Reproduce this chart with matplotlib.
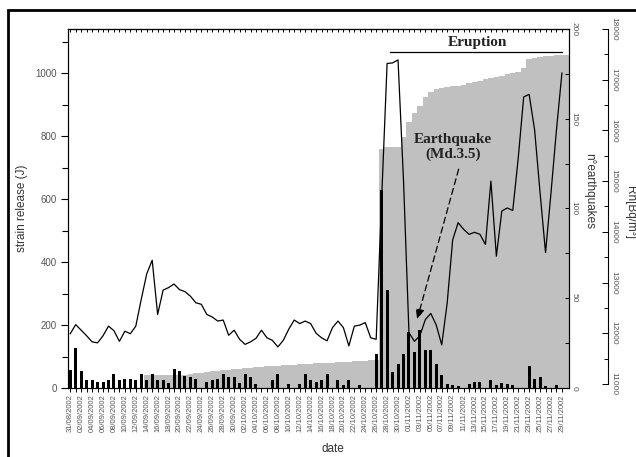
import numpy as np
import pandas as pd
import matplotlib
matplotlib.use("Agg")
import matplotlib.pyplot as plt
from matplotlib.patches import Rectangle
from matplotlib.ticker import MultipleLocator

plt.rcParams['font.family'] = ['Liberation Sans', 'DejaVu Sans']

# dates, one value per day
dates = pd.date_range("2002-08-31", "2002-11-29", freq="D")
date_labels = [d.strftime("%d/%m/%Y") for d in dates[::2]]

# strain release (J) - bars
strain = [58, 126, 53, 26, 25, 18, 18, 25, 46, 25,
          28, 29, 26, 43, 26, 43, 26, 26, 17, 60,
          53, 37, 35, 30, 0, 18, 25, 28, 43, 36,
          36, 17, 43, 34, 12, 0, 0, 24, 43, 0,
          12, 0, 12, 43, 24, 18, 24, 45, 0, 24,
          11, 24, 0, 11, 0, 0, 109, 630, 310, 51,
          75, 109, 177, 115, 184, 120, 120, 75, 41, 12,
          8, 7, 0, 12, 18, 18, 0, 24, 8, 17,
          12, 8, 0, 0, 69, 28, 35, 7, 0, 10, 0]

# Rn [Bq/m3] - line
radon = [11990, 12170, 12060, 11950, 11830, 11810, 11950, 12140, 12050, 11840,
         12040, 11990, 12140, 12670, 13170, 13440, 12370, 12850, 12900, 12970,
         12860, 12820, 12730, 12600, 12570, 12370, 12320, 12240, 12260, 11960,
         12060, 11880, 11780, 11830, 11900, 12060, 11910, 11860, 11730, 11860,
         12080, 12260, 12190, 12240, 12190, 12000, 11910, 11850, 12110, 12240,
         12110, 11750, 12140, 12160, 12210, 11910, 11880, 14650, 17320, 17330,
         17390, 15020, 12010, 11840, 11950, 12270, 12390, 12160, 11770, 12600,
         13840, 14180, 14050, 13950, 13990, 13950, 13750, 15000, 13520, 14410,
         14470, 14420, 15450, 16660, 16710, 16010, 14770, 13590, 14770, 16010, 17130]

# cumulative n° of earthquakes - grey area
cum_eq = [0, 0, 0, 0, 0, 0, 0, 0, 0, 0,
          0, 0, 0, 0, 7.0, 7.0, 7.0, 7.0, 7.0, 7.0,
          7.0, 7.3, 7.8, 8.2, 8.6, 9.0, 9.3, 9.6, 9.9, 10.2,
          10.5, 10.8, 11.0, 11.3, 11.5, 11.8, 12.0, 12.2, 12.4, 12.6,
          12.8, 13.0, 13.2, 13.3, 13.5, 13.7, 13.8, 14.0, 14.2, 14.3,
          14.5, 14.7, 14.9, 15.1, 15.3, 15.5, 15.5, 133, 134, 134,
          134, 140, 148, 153, 157, 162, 165, 166.5, 167, 167.5,
          168, 168, 169, 170, 170.5, 171, 172, 172.5, 173.5, 174,
          175, 175.5, 176, 178, 183, 184, 184.5, 185, 185, 185.5, 185.5]

eruption = (58.5, 90.0)          # day index span
quake_arrow = ((71.1, 695), (63.5, 218))   # tail, head (day, strain units)

days = np.arange(len(dates))
edges = np.append(days - 0.5, days[-1] + 1.5)

fig = plt.figure(figsize=(6.36, 4.57), dpi=100)
ax = fig.add_axes([0.107, 0.151, 0.7877, 0.7856])
ax_n = ax.twinx()
ax_rn = ax.twinx()

ax_n.set_zorder(1)
ax.set_zorder(2)
ax_rn.set_zorder(3)
ax.patch.set_visible(False)
ax_n.patch.set_visible(True)
ax_n.patch.set_facecolor('white')

# grey cumulative area
ax_n.stairs(cum_eq, edges, fill=True, color='#c0c0c0', lw=0)
ax_n.set_ylim(0, 200)

# bars
ax.bar(days, strain, width=0.55, color='black')
ax.set_ylim(0, 1140)
ax.set_xlim(-0.4, 91.3)

# radon line
ax_rn.plot(days, radon, color='black', lw=0.9)
ax_rn.set_ylim(10920, 18000)

tick_c = '#555555'
lab_c = '#333333'
# left axis
ax.yaxis.set_major_locator(MultipleLocator(200))
ax.yaxis.set_minor_locator(MultipleLocator(100))
ax.tick_params(axis='y', which='major', direction='out', length=5, width=0.8,
               labelsize=7, labelcolor=tick_c, pad=3)
ax.tick_params(axis='y', which='minor', direction='out', length=4, width=0.8)
ax.set_ylabel("strain release (J)", fontsize=8.5, color=lab_c)
ax.yaxis.set_label_coords(-0.08, 0.5)

# x axis
ax.set_xticks(days[::2])
ax.set_xticklabels(date_labels, rotation=90, fontsize=5.5, color=tick_c)
ax.set_xticks(days, minor=True)
ax.tick_params(axis='x', which='both', direction='out', length=3, width=0.7, pad=1.5)
ax.set_xlabel("date", fontsize=8.5, color=lab_c)
ax.xaxis.set_label_coords(0.529, -0.152)

top = ax.secondary_xaxis('top')
top.set_xticks(days)
top.tick_params(direction='in', length=2.5, width=0.7, labeltop=False)

# inner right axis (n° earthquakes)
ax_n.yaxis.set_major_locator(MultipleLocator(50))
ax_n.yaxis.set_minor_locator(MultipleLocator(25))
ax_n.tick_params(axis='y', which='major', direction='in', length=3, width=0.7,
                 labelsize=6, labelcolor=tick_c, pad=1)
ax_n.tick_params(axis='y', which='minor', direction='in', length=3, width=0.7)
for lab in ax_n.get_yticklabels():
    lab.set_rotation(270)
    lab.set_va('center')
ax_n.set_ylabel("n°earthquakes", fontsize=8.5, color=lab_c, rotation=270, va='center')
ax_n.yaxis.set_label_coords(1.04, 0.55)

# outer right axis (Rn)
ax_rn.spines['right'].set_position(('outward', 28))
ax_rn.spines['right'].set_bounds(11000, 18000)
ax_rn.spines['right'].set_linewidth(0.8)
for s in ['top', 'left', 'bottom']:
    ax_rn.spines[s].set_visible(False)
ax_rn.yaxis.set_major_locator(MultipleLocator(1000))
ax_rn.yaxis.set_minor_locator(MultipleLocator(500))
ax_rn.tick_params(axis='y', which='major', direction='in', length=4, width=0.7,
                  labelsize=6, labelcolor=tick_c, pad=2)
ax_rn.tick_params(axis='y', which='minor', direction='in', length=3, width=0.7)
for lab in ax_rn.get_yticklabels():
    lab.set_rotation(270)
    lab.set_va('center')
ax_rn.set_ylabel("Rn[Bq/m³]", fontsize=8.5, color=lab_c, rotation=270, va='center')
ax_rn.yaxis.set_label_coords(1.123, 0.49)

for s in ax.spines.values():
    s.set_linewidth(0.8)

# annotations
serif = ['Liberation Serif', 'DejaVu Serif']
ax.plot(eruption, [1067, 1067], color='black', lw=0.9, clip_on=False)
ax.text(np.mean(eruption) + 0.2, 1096, "Eruption", family=serif, fontweight='bold',
        fontsize=11, ha='center', va='center', color='#222222')
ax.text(70, 764, "Earthquake\n(Md.3.5)", family=serif, fontweight='bold',
        fontsize=11, ha='center', va='center', color='#222222', linespacing=1.15)
ax.annotate("", xy=quake_arrow[1], xytext=quake_arrow[0],
            arrowprops=dict(arrowstyle='-|>,head_length=0.6,head_width=0.25',
                            color='black', lw=0.9, linestyle=(0, (5, 3)),
                            shrinkA=0, shrinkB=0))

# outer frame
fig.patches.append(Rectangle((8 / 636, -0.1), 1.2, 1.1 - 10 / 457, transform=fig.transFigure,
                             fill=False, lw=2, ec='black'))

fig.savefig("out.png", dpi=100)
